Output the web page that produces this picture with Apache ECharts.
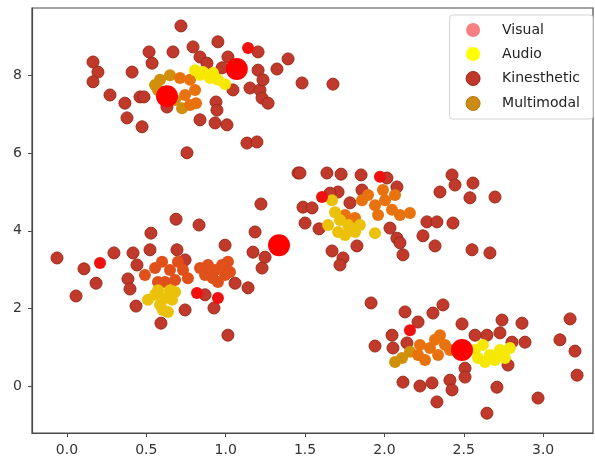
<!DOCTYPE html>
<html>
<head>
<meta charset="utf-8">
<script src="https://cdn.jsdelivr.net/npm/echarts@6/dist/echarts.min.js"></script>
<style>
  html, body { margin: 0; padding: 0; background: #ffffff; }
  #chart { width: 595px; height: 463px; }
</style>
</head>
<body>
<div id="chart"></div>
<script>
// Tick labels
const xTicks = [0.0, 0.5, 1.0, 1.5, 2.0, 2.5, 3.0];
const yTicks = [0, 2, 4, 6, 8];

// Legend categories
const categories = ['Visual', 'Audio', 'Kinesthetic', 'Multimodal'];

// Visual: cluster centres and single visual samples
const visualCenters = [[0.63, 7.47], [1.07, 8.17], [1.336, 3.63], [2.489, 0.93]];
const visualSamples = [[0.208, 3.17], [0.819, 2.40], [0.951, 2.27], [1.141, 8.71],
  [1.607, 4.87], [2.161, 1.44], [1.972, 5.39]];

// Kinesthetic samples
const kinesthetic = [
  [0.718, 9.28], [0.517, 8.61], [0.668, 8.61], [0.794, 8.74], [0.951, 8.87], [1.204, 8.61],
  [1.014, 8.48], [0.838, 8.48], [0.882, 8.32], [0.536, 8.32], [0.164, 8.35], [0.195, 8.09],
  [0.164, 7.84], [0.41, 8.09], [0.271, 7.50], [0.365, 7.29], [0.46, 7.45], [0.485, 7.45],
  [0.378, 6.91], [0.473, 6.68], [0.63, 7.19], [0.838, 6.86], [0.933, 6.78], [1.008, 6.73],
  [0.939, 7.32], [0.945, 7.11], [1.046, 7.63], [1.153, 7.68], [1.216, 7.63], [1.204, 8.14],
  [1.235, 7.89], [1.229, 7.42], [1.267, 7.29], [1.323, 8.17], [1.393, 8.43], [1.481, 7.81],
  [1.676, 7.78], [1.134, 6.26], [1.197, 6.29], [0.756, 6.01], [1.456, 5.49], [0.977, 8.20],
  [-0.063, 3.30], [0.057, 2.32], [0.107, 3.02], [0.183, 2.65], [0.296, 3.43], [0.416, 3.43],
  [0.441, 3.12], [0.384, 2.76], [0.397, 2.50], [0.435, 2.06], [0.529, 3.94], [0.523, 3.51],
  [0.687, 4.30], [0.832, 4.15], [0.693, 3.51], [0.744, 3.25], [0.592, 1.62], [0.744, 1.96],
  [0.870, 2.35], [0.926, 2.01], [0.996, 3.63], [1.059, 2.65], [1.141, 2.53], [1.014, 1.31],
  [1.185, 3.97], [1.172, 3.45], [1.229, 3.04], [1.248, 3.32], [1.222, 4.69],
  [1.468, 5.49], [1.638, 5.49], [1.727, 5.46], [1.853, 5.44], [2.016, 5.36], [2.079, 5.13],
  [1.859, 5.05], [1.708, 5.00], [1.657, 4.97], [1.487, 4.61], [1.544, 4.59], [1.50, 4.20],
  [1.588, 4.05], [1.783, 4.72], [1.67, 3.48], [1.739, 3.30], [1.72, 3.12], [1.827, 3.61],
  [2.035, 4.07], [2.079, 3.81], [2.098, 3.69], [2.117, 3.38], [2.243, 3.87], [2.268, 4.23],
  [2.331, 4.23], [2.432, 4.20], [2.319, 3.61], [2.35, 5.00], [2.426, 5.44], [2.445, 5.18],
  [2.558, 5.23], [2.539, 4.85], [2.697, 4.87], [2.552, 3.51], [2.665, 3.43],
  [1.916, 2.14], [1.941, 1.03], [2.048, 1.31], [2.054, 0.98], [2.13, 1.91], [2.142, 1.11],
  [2.212, 1.65], [2.306, 1.88], [2.369, 2.09], [2.489, 1.60], [2.117, 0.10], [2.224, 0.00],
  [2.30, 0.08], [2.413, 0.15], [2.426, -0.10], [2.331, -0.41], [2.508, 0.46], [2.508, 0.23],
  [2.646, -0.70], [2.709, -0.03], [2.741, 1.70], [2.867, 1.62], [2.728, 1.37], [2.646, 1.31],
  [2.571, 1.31], [2.804, 1.13], [2.886, 1.13], [2.779, 0.54], [2.968, -0.31], [3.17, 1.73],
  [3.106, 1.19], [3.201, 0.90], [3.214, 0.28]
];

// Multimodal samples, grouped by shade
const multimodalGold = [
  [0.586, 7.89], [0.649, 8.01], [0.573, 7.63], [0.555, 7.76], [0.681, 7.37], [0.725, 7.16],
  [2.067, 0.62], [2.111, 0.72], [2.161, 0.88]
];
const multimodalOrange = [
  [0.712, 7.94], [0.775, 7.89], [0.744, 7.50], [0.807, 7.63], [0.775, 7.24], [0.813, 7.29],
  [1.859, 4.79], [1.897, 4.92], [1.941, 4.66], [2.004, 4.79], [2.048, 4.54], [2.098, 4.41],
  [2.161, 4.46], [2.067, 4.92], [1.96, 4.41], [1.815, 4.33], [1.752, 4.41], [1.991, 5.05],
  [2.212, 0.80], [2.256, 0.67], [2.287, 0.98], [2.319, 1.19], [2.35, 1.31], [2.382, 1.06],
  [2.338, 0.80], [2.224, 1.06], [2.413, 0.93]
];
const multimodalRed = [
  [0.491, 2.86], [0.555, 3.04], [0.599, 3.20], [0.649, 2.99], [0.699, 3.20], [0.731, 2.99],
  [0.762, 2.78], [0.618, 2.68], [0.681, 2.73], [0.573, 2.68],
  [0.838, 3.04], [0.888, 3.12], [0.933, 2.99], [0.977, 3.12], [1.014, 3.20], [0.996, 2.86],
  [0.92, 2.78], [0.87, 2.86], [0.951, 2.68], [1.027, 2.94]
];

// Audio samples, grouped by shade
const audioGold = [
  [0.51, 2.22], [0.555, 2.35], [0.586, 2.09], [0.618, 2.27], [0.649, 2.47], [0.662, 2.22],
  [0.605, 1.96], [0.636, 1.91], [0.573, 2.47], [0.681, 2.42],
  [1.689, 4.48], [1.72, 4.28], [1.771, 4.15], [1.708, 3.97], [1.752, 3.89], [1.815, 3.97],
  [1.846, 4.15], [1.941, 3.94], [1.645, 4.15], [1.67, 4.79]
];
const audioYellow = [
  [0.807, 8.14], [0.857, 8.09], [0.901, 7.94], [0.951, 7.89], [0.996, 7.78], [0.838, 8.02],
  [0.92, 8.07],
  [2.571, 0.93], [2.621, 1.06], [2.665, 0.80], [2.697, 0.67], [2.728, 0.93], [2.76, 0.72],
  [2.634, 0.62], [2.791, 0.98], [2.59, 0.72]
];

const X_MIN = -0.2205, X_MAX = 3.3144;
const Y_MIN = -1.211, Y_MAX = 9.742;

function dotSeries(name, data, color, size, border) {
  return {
    name: name,
    type: 'scatter',
    data: data,
    symbolSize: size,
    itemStyle: {
      color: color,
      borderColor: border || color,
      borderWidth: border ? 1 : 0,
      opacity: 1
    },
    emphasis: { disabled: true },
    animation: false
  };
}

const chart = echarts.init(document.getElementById('chart'), null, { renderer: 'canvas' });

chart.setOption({
  backgroundColor: '#ffffff',
  animation: false,
  grid: {
    left: 32, top: 8, width: 561, height: 425,
    show: true, borderColor: '#4a4a4a', borderWidth: 1.2, backgroundColor: 'transparent'
  },
  legend: {
    orient: 'vertical',
    right: 2, top: 15,
    padding: [8, 13, 8, 16],
    itemGap: 10,
    itemWidth: 14, itemHeight: 14,
    icon: 'circle',
    backgroundColor: 'rgba(255,255,255,0.85)',
    borderColor: '#d4d4d4', borderWidth: 1, borderRadius: 3,
    textStyle: { fontFamily: 'DejaVu Sans', fontSize: 14, color: '#222', padding: [0, 0, 0, 17] },
    data: [
      { name: categories[0], itemStyle: { color: '#f77f7f', borderWidth: 0 } },
      { name: categories[1], itemStyle: { color: '#ffff00', borderWidth: 0 } },
      { name: categories[2], itemStyle: { color: '#c0392b', borderColor: '#9a2c1c', borderWidth: 1 } },
      { name: categories[3], itemStyle: { color: '#cc8b12', borderColor: '#b87a10', borderWidth: 1 } }
    ]
  },
  xAxis: {
    type: 'value',
    min: X_MIN, max: X_MAX,
    splitLine: { show: false },
    axisLine: { show: true, onZero: false, lineStyle: { color: '#4a4a4a', width: 1.2 } },
    axisTick: { show: true, inside: false, length: 4, customValues: xTicks, lineStyle: { color: '#4a4a4a' } },
    axisLabel: {
      customValues: xTicks,
      formatter: v => v.toFixed(1),
      fontFamily: 'DejaVu Sans', fontSize: 14, color: '#333', margin: 10
    }
  },
  yAxis: {
    type: 'value',
    min: Y_MIN, max: Y_MAX,
    splitLine: { show: false },
    axisLine: { show: true, onZero: false, lineStyle: { color: '#4a4a4a', width: 1.2 } },
    axisTick: { show: true, inside: false, length: 4, customValues: yTicks, lineStyle: { color: '#4a4a4a' } },
    axisLabel: {
      customValues: yTicks,
      formatter: v => String(v),
      fontFamily: 'DejaVu Sans', fontSize: 14, color: '#333', margin: 10
    }
  },
  series: [
    dotSeries(categories[2], kinesthetic, '#c0392b', 12, '#9a2c1c'),
    dotSeries(categories[3], multimodalGold, '#d0900c', 12),
    dotSeries(categories[3], multimodalOrange, '#e8730e', 12),
    dotSeries(categories[3], multimodalRed, '#e0501a', 12),
    dotSeries(categories[1], audioGold, '#ebc10a', 12),
    dotSeries(categories[1], audioYellow, '#f6e800', 12),
    dotSeries(categories[0], visualSamples, '#f01010', 12),
    dotSeries(categories[0], visualCenters, '#ff0000', 22)
  ]
});
</script>
</body>
</html>
